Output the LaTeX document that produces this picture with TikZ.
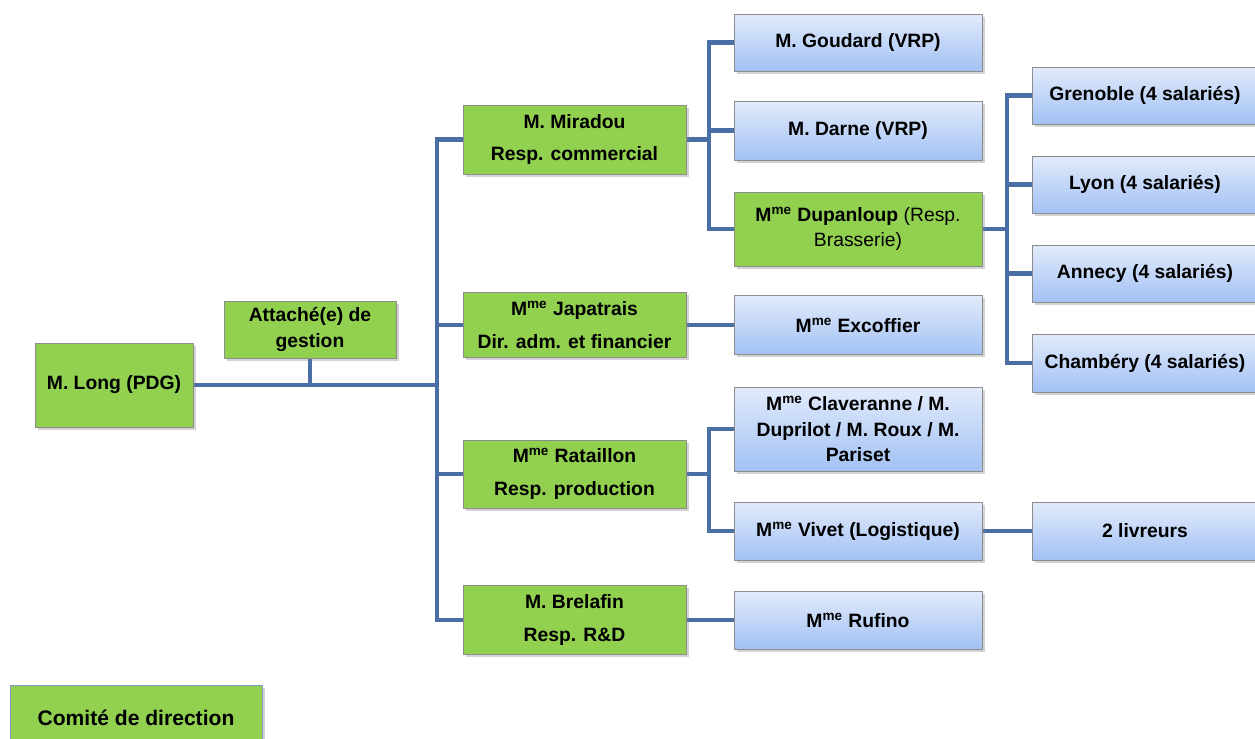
\documentclass[tikz,border=0pt]{standalone}
\usepackage{fontspec}
\setmainfont{Liberation Sans}
\usetikzlibrary{shadows,backgrounds}
\definecolor{vert}{HTML}{92D050}
\definecolor{bleuA}{HTML}{E2EBFB}
\definecolor{bleuB}{HTML}{A2C1F4}
\definecolor{lien}{HTML}{4A6FA5}
\definecolor{bord}{HTML}{8C8C8C}
\newcommand{\Mme}{M\textsuperscript{me}}
\begin{document}
\begin{tikzpicture}[x=0.02cm, y=-0.02cm, line join=round,
	boite/.style={draw=bord, line width=0.5pt, inner sep=0pt, align=center,
		font=\fontsize{11}{14.5}\selectfont\bfseries,
		drop shadow={opacity=0.35, shadow xshift=1.5pt, shadow yshift=-1.5pt}},
	direction/.style={boite, fill=vert},
	equipe/.style={boite, top color=bleuA, bottom color=bleuB},
	lien/.style={draw=lien, line width=2.8pt}]
	\clip (0,0) rectangle (1255,738);
	% comite de direction
	\node[direction, minimum width=3.16cm, minimum height=1.68cm] (long) at (114,385) {M. Long (PDG)};
	\node[direction, minimum width=3.44cm, minimum height=1.14cm] (attache) at (310,329.5) {Attach\'e(e) de\\gestion};
	\node[direction, minimum width=4.46cm, minimum height=1.38cm] (miradou) at (574.5,139.5) {M. Miradou\\[4pt]Resp. commercial};
	\node[direction, minimum width=4.46cm, minimum height=1.30cm] (japatrais) at (574.5,325) {\Mme{} Japatrais\\[4pt]Dir. adm. et financier};
	\node[direction, minimum width=4.46cm, minimum height=1.36cm] (rataillon) at (574.5,474) {\Mme{} Rataillon\\[4pt]Resp. production};
	\node[direction, minimum width=4.46cm, minimum height=1.38cm] (brelafin) at (574.5,620) {M. Brelafin\\[4pt]Resp. R\&D};
	% equipes
	\node[equipe, minimum width=4.96cm, minimum height=1.14cm] (goudard) at (858,42.5) {M. Goudard (VRP)};
	\node[equipe, minimum width=4.96cm, minimum height=1.18cm] (darne) at (858,130.5) {M. Darne (VRP)};
	\node[direction, minimum width=4.96cm, minimum height=1.48cm] (dupanloup) at (858,229)
		{\Mme{} Dupanloup \mdseries(Resp.\\\mdseries Brasserie)};
	\node[equipe, minimum width=4.96cm, minimum height=1.18cm] (excoffier) at (858,325) {\Mme{} Excoffier};
	\node[equipe, minimum width=4.96cm, minimum height=1.68cm] (claveranne) at (858,429)
		{\Mme{} Claveranne / M.\\Duprilot / M. Roux / M.\\Pariset};
	\node[equipe, minimum width=4.96cm, minimum height=1.16cm] (vivet) at (858,531) {\Mme{} Vivet (Logistique)};
	\node[equipe, minimum width=4.96cm, minimum height=1.16cm] (rufino) at (858,620) {\Mme{} Rufino};
	\node[equipe, minimum width=4.50cm, minimum height=1.14cm] (grenoble) at (1145,95.5) {Grenoble (4 salari\'es)};
	\node[equipe, minimum width=4.50cm, minimum height=1.14cm] (lyon) at (1145,184.5) {Lyon (4 salari\'es)};
	\node[equipe, minimum width=4.50cm, minimum height=1.14cm] (annecy) at (1145,273.5) {Annecy (4 salari\'es)};
	\node[equipe, minimum width=4.50cm, minimum height=1.16cm] (chambery) at (1145,363) {Chamb\'ery (4 salari\'es)};
	\node[equipe, minimum width=4.50cm, minimum height=1.16cm] (livreurs) at (1145,531) {2 livreurs};
	% legende
	\node[direction, draw=lien!70, minimum width=5.04cm, minimum height=1.3cm,
		font=\fontsize{12}{14}\selectfont\bfseries] (legende) at (136,718) {Comit\'e de direction};
	% liens
	\path (437,385) coordinate (tronc)
		(709,139.5) coordinate (brA)
		(709,474) coordinate (brB)
		(1007,229) coordinate (brC);
	\begin{scope}[on background layer]
		\draw[lien] (long) -- (tronc);
		\draw[lien] (attache) -- (attache |- tronc);
		\foreach \n in {miradou,japatrais,rataillon,brelafin}
			\draw[lien] (tronc) |- (\n.west);
		\draw[lien] (miradou) -- (brA);
		\foreach \n in {goudard,darne,dupanloup}
			\draw[lien] (brA) |- (\n.west);
		\draw[lien] (rataillon) -- (brB);
		\foreach \n in {claveranne,vivet}
			\draw[lien] (brB) |- (\n.west);
		\draw[lien] (dupanloup) -- (brC);
		\foreach \n in {grenoble,lyon,annecy,chambery}
			\draw[lien] (brC) |- (\n.west);
		\draw[lien] (japatrais) -- (excoffier);
		\draw[lien] (vivet) -- (livreurs);
		\draw[lien] (brelafin) -- (rufino);
	\end{scope}
\end{tikzpicture}
\end{document}
